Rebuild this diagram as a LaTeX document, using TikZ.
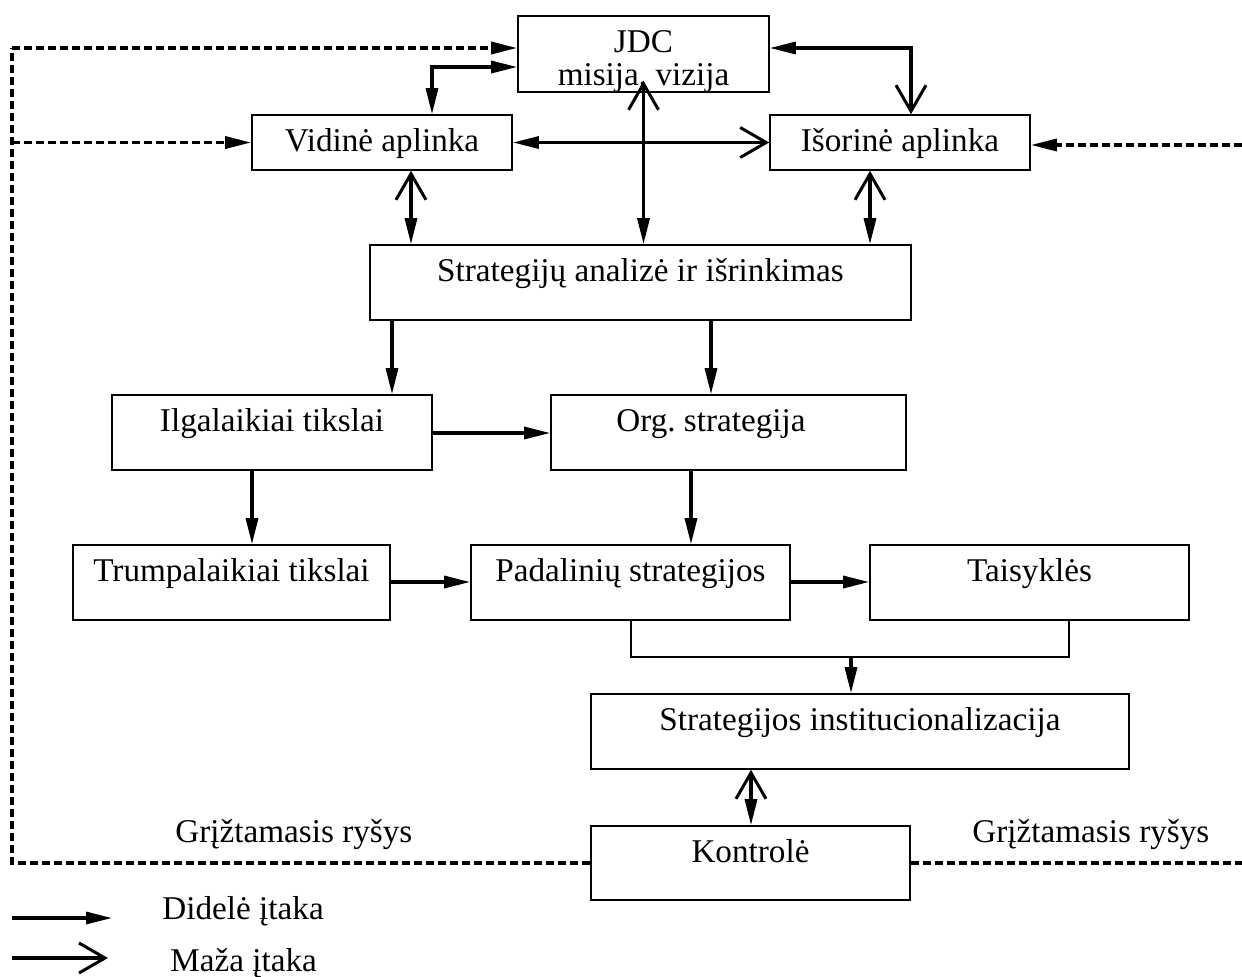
\documentclass[tikz,border=0pt]{standalone}
\usepackage{fontspec}
\setmainfont{Liberation Serif}
\usetikzlibrary{arrows.meta}
\newcommand{\lbfont}{\fontsize{16.6pt}{19pt}\selectfont}
\begin{document}
\begin{tikzpicture}[x=0.5pt,y=-0.5pt,
  box/.style={draw,line width=0.8pt,inner sep=0pt},
  boxtext/.style={anchor=base,yshift=-18.5pt,font=\lbfont,inner sep=0pt},
  txt/.style={font=\lbfont,inner sep=0pt},
  big/.style={line width=1.6pt},
  thinline/.style={line width=0.8pt},
  fb/.style={line width=1.7pt,dash pattern=on 4pt off 2pt},
  Fat/.tip={Triangle[length=13pt,width=6pt]},
  Thin/.tip={Straight Barb[length=13pt,width=15pt,line width=1.5pt]}]
\useasboundingbox (0,0) rectangle (1242,976);

% boxes
\node[box,minimum width=125.5pt,minimum height=38pt,
  label={[boxtext]north:JDC},label={[boxtext,yshift=-16.5pt]north:{misija, vizija}}] (jdc) at (643.5,54) {};
\node[box,minimum width=130pt,minimum height=27.5pt,label={[boxtext]north:Vidinė aplinka}] (vid) at (382,142.5) {};
\node[box,minimum width=130pt,minimum height=27.5pt,label={[boxtext]north:Išorinė aplinka}] (isor) at (900,142.5) {};
\node[box,minimum width=270.5pt,minimum height=37.5pt,label={[boxtext]north:Strategijų analizė ir išrinkimas}] (str) at (640.5,282.5) {};
\node[box,minimum width=160pt,minimum height=37.5pt,label={[boxtext]north:Ilgalaikiai tikslai}] (ilg) at (272,432.5) {};
\node[box,minimum width=177.5pt,minimum height=37.5pt,label={[boxtext,xshift=-8.75pt]north:Org.\ strategija}] (org) at (728.5,432.5) {};
\node[box,minimum width=158.5pt,minimum height=37.5pt,label={[boxtext]north:Trumpalaikiai tikslai}] (trm) at (231.5,582.5) {};
\node[box,minimum width=159.5pt,minimum height=37.5pt,label={[boxtext]north:Padalinių strategijos}] (pad) at (630.5,582.5) {};
\node[box,minimum width=159.5pt,minimum height=37.5pt,label={[boxtext]north:Taisyklės}] (tai) at (1029.5,582.5) {};
\node[box,minimum width=269pt,minimum height=37.5pt,label={[boxtext]north:Strategijos institucionalizacija}] (inst) at (860,731.5) {};
\node[box,minimum width=159.5pt,minimum height=37pt,label={[boxtext]north:Kontrolė}] (kon) at (750.5,863) {};

% routing points
\coordinate (cJV) at (432,67);
\coordinate (cJI) at (911,48);
\coordinate (xV) at (411,0);
\coordinate (xI) at (870,0);
\coordinate (xA) at (392,0);
\coordinate (xB) at (711,0);
\coordinate (yA) at (0,433);
\coordinate (xC) at (252,0);
\coordinate (xD) at (691,0);
\coordinate (yB) at (0,582);
\coordinate (j1) at (631,657);
\coordinate (j2) at (1069,657);
\coordinate (jm) at (851,657);
\coordinate (xE) at (751,0);

% connectors
\draw[big,{Fat}-{Fat}] (vid.north -| cJV) -- (cJV) -- (jdc.west |- cJV);
\draw[big,{Fat}-{Thin}] (jdc.east |- cJI) -- (cJI) -- (isor.north -| cJI);
\draw[big,{Fat}-{Thin}] (vid.east) -- (isor.west);
\draw[big,{Thin}-{Fat},shorten <=-6pt] (jdc.south) -- (str.north -| jdc.south);
\draw[big,{Thin}-{Fat}] (vid.south -| xV) -- (str.north -| xV);
\draw[big,{Thin}-{Fat}] (isor.south -| xI) -- (str.north -| xI);
\draw[big,-{Fat}] (str.south -| xA) -- (ilg.north -| xA);
\draw[big,-{Fat}] (str.south -| xB) -- (org.north -| xB);
\draw[big,-{Fat}] (ilg.east |- yA) -- (org.west |- yA);
\draw[big,-{Fat}] (ilg.south -| xC) -- (trm.north -| xC);
\draw[big,-{Fat}] (org.south -| xD) -- (pad.north -| xD);
\draw[big,-{Fat}] (trm.east |- yB) -- (pad.west |- yB);
\draw[big,-{Fat}] (pad.east |- yB) -- (tai.west |- yB);
\draw[thinline] (pad.south -| j1) -- (j1) -- (j2) -- (tai.south -| j2);
\draw[big,-{Fat}] (jm) -- (inst.north -| jm);
\draw[big,{Thin}-{Fat}] (inst.south -| xE) -- (kon.north -| xE);

% feedback loop
\coordinate (fL) at (12,863);
\coordinate (fLt) at (12,48);
\coordinate (fLm) at (12,142.5);
\coordinate (fR) at (1242,863);
\coordinate (fRm) at (1242,145);
\draw[fb] (kon.west) -- (fL) -- (fLt);
\draw[fb,-{Fat}] (fLt) -- (jdc.west |- fLt);
\draw[fb,-{Fat}] (fLm) -- (vid.west);
\draw[fb] (kon.east) -- (fR);
\draw[fb,-{Fat}] (fRm) -- (isor.east |- fRm);
\node[txt,anchor=base west] (gL) at (175,842) {Grįžtamasis ryšys};
\node[txt,anchor=base west] (gR) at (972,842) {Grįžtamasis ryšys};

% legend
\coordinate (lgA1) at (12,918);
\coordinate (lgA2) at (112,918);
\coordinate (lgB1) at (12,958);
\coordinate (lgB2) at (108,958);
\draw[big,-{Fat}] (lgA1) -- (lgA2);
\draw[big,-{Thin}] (lgB1) -- (lgB2);
\node[txt,anchor=base west] (lgT1) at (162,919) {Didelė įtaka};
\node[txt,anchor=base west] (lgT2) at (170,971) {Maža įtaka};
\end{tikzpicture}
\end{document}
